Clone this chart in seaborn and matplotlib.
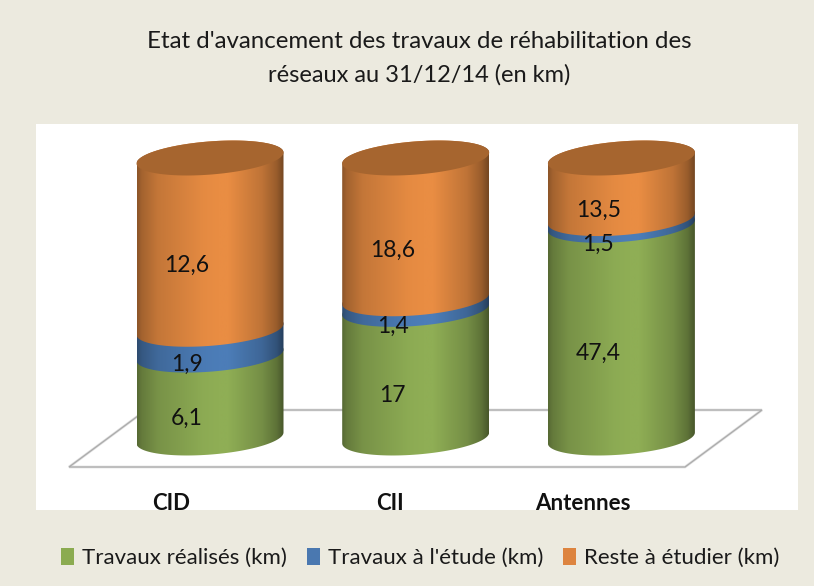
import numpy as np
import matplotlib
matplotlib.use("Agg")
import matplotlib.pyplot as plt
import seaborn as sns
from matplotlib.colors import LinearSegmentedColormap
from matplotlib.patches import Patch, Polygon
from matplotlib.path import Path

categories = ["CID", "CII", "Antennes"]
series_names = ["Travaux réalisés (km)", "Travaux à l'étude (km)", "Reste à étudier (km)"]
realises = [6.1, 17, 47.4]
etude = [1.9, 1.4, 1.5]
reste = [12.6, 18.6, 13.5]
value_labels = [["6,1", "17", "47,4"], ["1,9", "1,4", "1,5"], ["12,6", "18,6", "13,5"]]
colors = ["#8FAE55", "#4C7DB8", "#E98D43"]
legend_colors = ["#8BAB50", "#4A78B0", "#DD843F"]
cap_color = "#A6652F"
bg = "#ECEADF"

W, H = 814, 586
sns.set_style("white")
plt.rcParams["font.family"] = ["Lato", "DejaVu Sans"]

# pixel geometry of the white plot area
SX = 205.7  # px per category
SY = 2.80   # px per percent
ELL_A, ELL_B, ELL_K = 73.5, 16.6, 5.5


def px_x(px):
    return (px - 210) / SX


def px_y(py):
    return (438 - py) / SY


def arc(cx, cy, t0, t1, n=60):
    t = np.linspace(t0, t1, n)
    x = cx + ELL_A * np.cos(t) / SX
    y = cy + (ELL_B * np.sin(t) + ELL_K * np.cos(t)) / SY
    return np.column_stack([x, y])


def cylinder_path(cx, y0, y1):
    """Body of one stacked segment: lower arc at y0, upper arc at y1."""
    pts = np.vstack([arc(cx, y0, np.pi, 2 * np.pi), arc(cx, y1, 0, np.pi)])
    return Path(np.vstack([pts, pts[0]]), closed=True)


def shade_cmap(color):
    base = np.array(matplotlib.colors.to_rgb(color))
    stops = [(0, .60), (.03, .70), (.14, .84), (.45, .98), (.55, 1.0), (.62, 1.0),
             (.85, .82), (.95, .66), (1, .50)]
    return LinearSegmentedColormap.from_list("s", [(p, base * f) for p, f in stops])


fig = plt.figure(figsize=(W / 100, H / 100), dpi=100, facecolor=bg)
ax = fig.add_axes([36 / W, 1 - 510 / H, (798 - 36) / W, (510 - 124) / H], facecolor="white")

series = np.array([realises, etude, reste], dtype=float)
pct = series / series.sum(axis=0) * 100

bottom = np.zeros(3)
for name, col, vals in zip(series_names, colors, pct):
    sns.barplot(x=categories, y=vals, bottom=bottom, color=col, saturation=1,
                width=147 / SX, errorbar=None, ax=ax)
    bottom = bottom + vals

xlim = (px_x(36), px_x(798))
ylim = (px_y(510), px_y(124))

# floor of the 3D chart, behind the cylinders
floor = [(69, 467), (685, 467), (762, 410), (146, 410)]
ax.add_patch(Polygon([(px_x(a), px_y(b)) for a, b in floor], closed=True, fc="white",
                     ec="#DEDEDE", lw=1.9, zorder=1))
ax.add_patch(Polygon([(px_x(a), px_y(b)) for a, b in floor], closed=True, fc="none",
                     ec="#ABABAB", lw=0.9, zorder=1.1))

# swap the flat bars for shaded cylinders
grad = np.linspace(0, 1, 256).reshape(1, -1)
n_cat = len(categories)
for s, col in enumerate(colors):
    for i, bar in enumerate(ax.patches[s * n_cat:(s + 1) * n_cat]):
        bar.set_visible(False)
        cx = bar.get_x() + bar.get_width() / 2
        y0, y1 = bar.get_y(), bar.get_y() + bar.get_height()
        x0, x1 = cx - ELL_A / SX, cx + ELL_A / SX
        im = ax.imshow(grad, cmap=shade_cmap(col), extent=(x0, x1, ylim[0], ylim[1]),
                       aspect="auto", interpolation="bilinear", zorder=2 + s)
        im.set_clip_path(cylinder_path(cx, y0, y1), transform=ax.transData)
        ax.text(cx - 23 / SX, (y0 + y1) / 2 - 22 / SY, value_labels[s][i], ha="center",
                va="center", fontsize=16.5, color="#111111", zorder=10)
        if s == len(colors) - 1:
            top = arc(cx, y1, 0, 2 * np.pi, 120)
            ax.add_patch(Polygon(top, closed=True, fc=cap_color, ec="none", zorder=6))

# category labels sit left of the cylinders, across the edge of the white area
for label, px in zip(categories, [171, 390, 583]):
    ax.text(px_x(px), px_y(503), label, ha="center", va="center", fontsize=16,
            fontweight="bold", color="#111111", zorder=10, clip_on=False)

ax.set_xlim(*xlim)
ax.set_ylim(*ylim)
ax.set_xticks([])
ax.set_yticks([])
ax.set_xlabel("")
ax.set_ylabel("")
sns.despine(ax=ax, left=True, bottom=True)

fig.text(419 / W, 1 - 41 / H, "Etat d'avancement des travaux de réhabilitation des",
         ha="center", va="center", fontsize=17.3, color="#1A1A1A")
fig.text(419 / W, 1 - 75 / H, "réseaux au 31/12/14 (en km)",
         ha="center", va="center", fontsize=17, color="#1A1A1A")

handles = [Patch(fc=c, ec="none", label=n) for c, n in zip(legend_colors, series_names)]
fig.legend(handles=handles, loc="center", bbox_to_anchor=(420 / W, 1 - 558 / H), ncol=3,
           frameon=False, fontsize=16, handlelength=0.6, handleheight=0.78,
           handletextpad=0.35, columnspacing=0.9, labelcolor="#1A1A1A")

fig.savefig("out.png", dpi=100, facecolor=bg)
